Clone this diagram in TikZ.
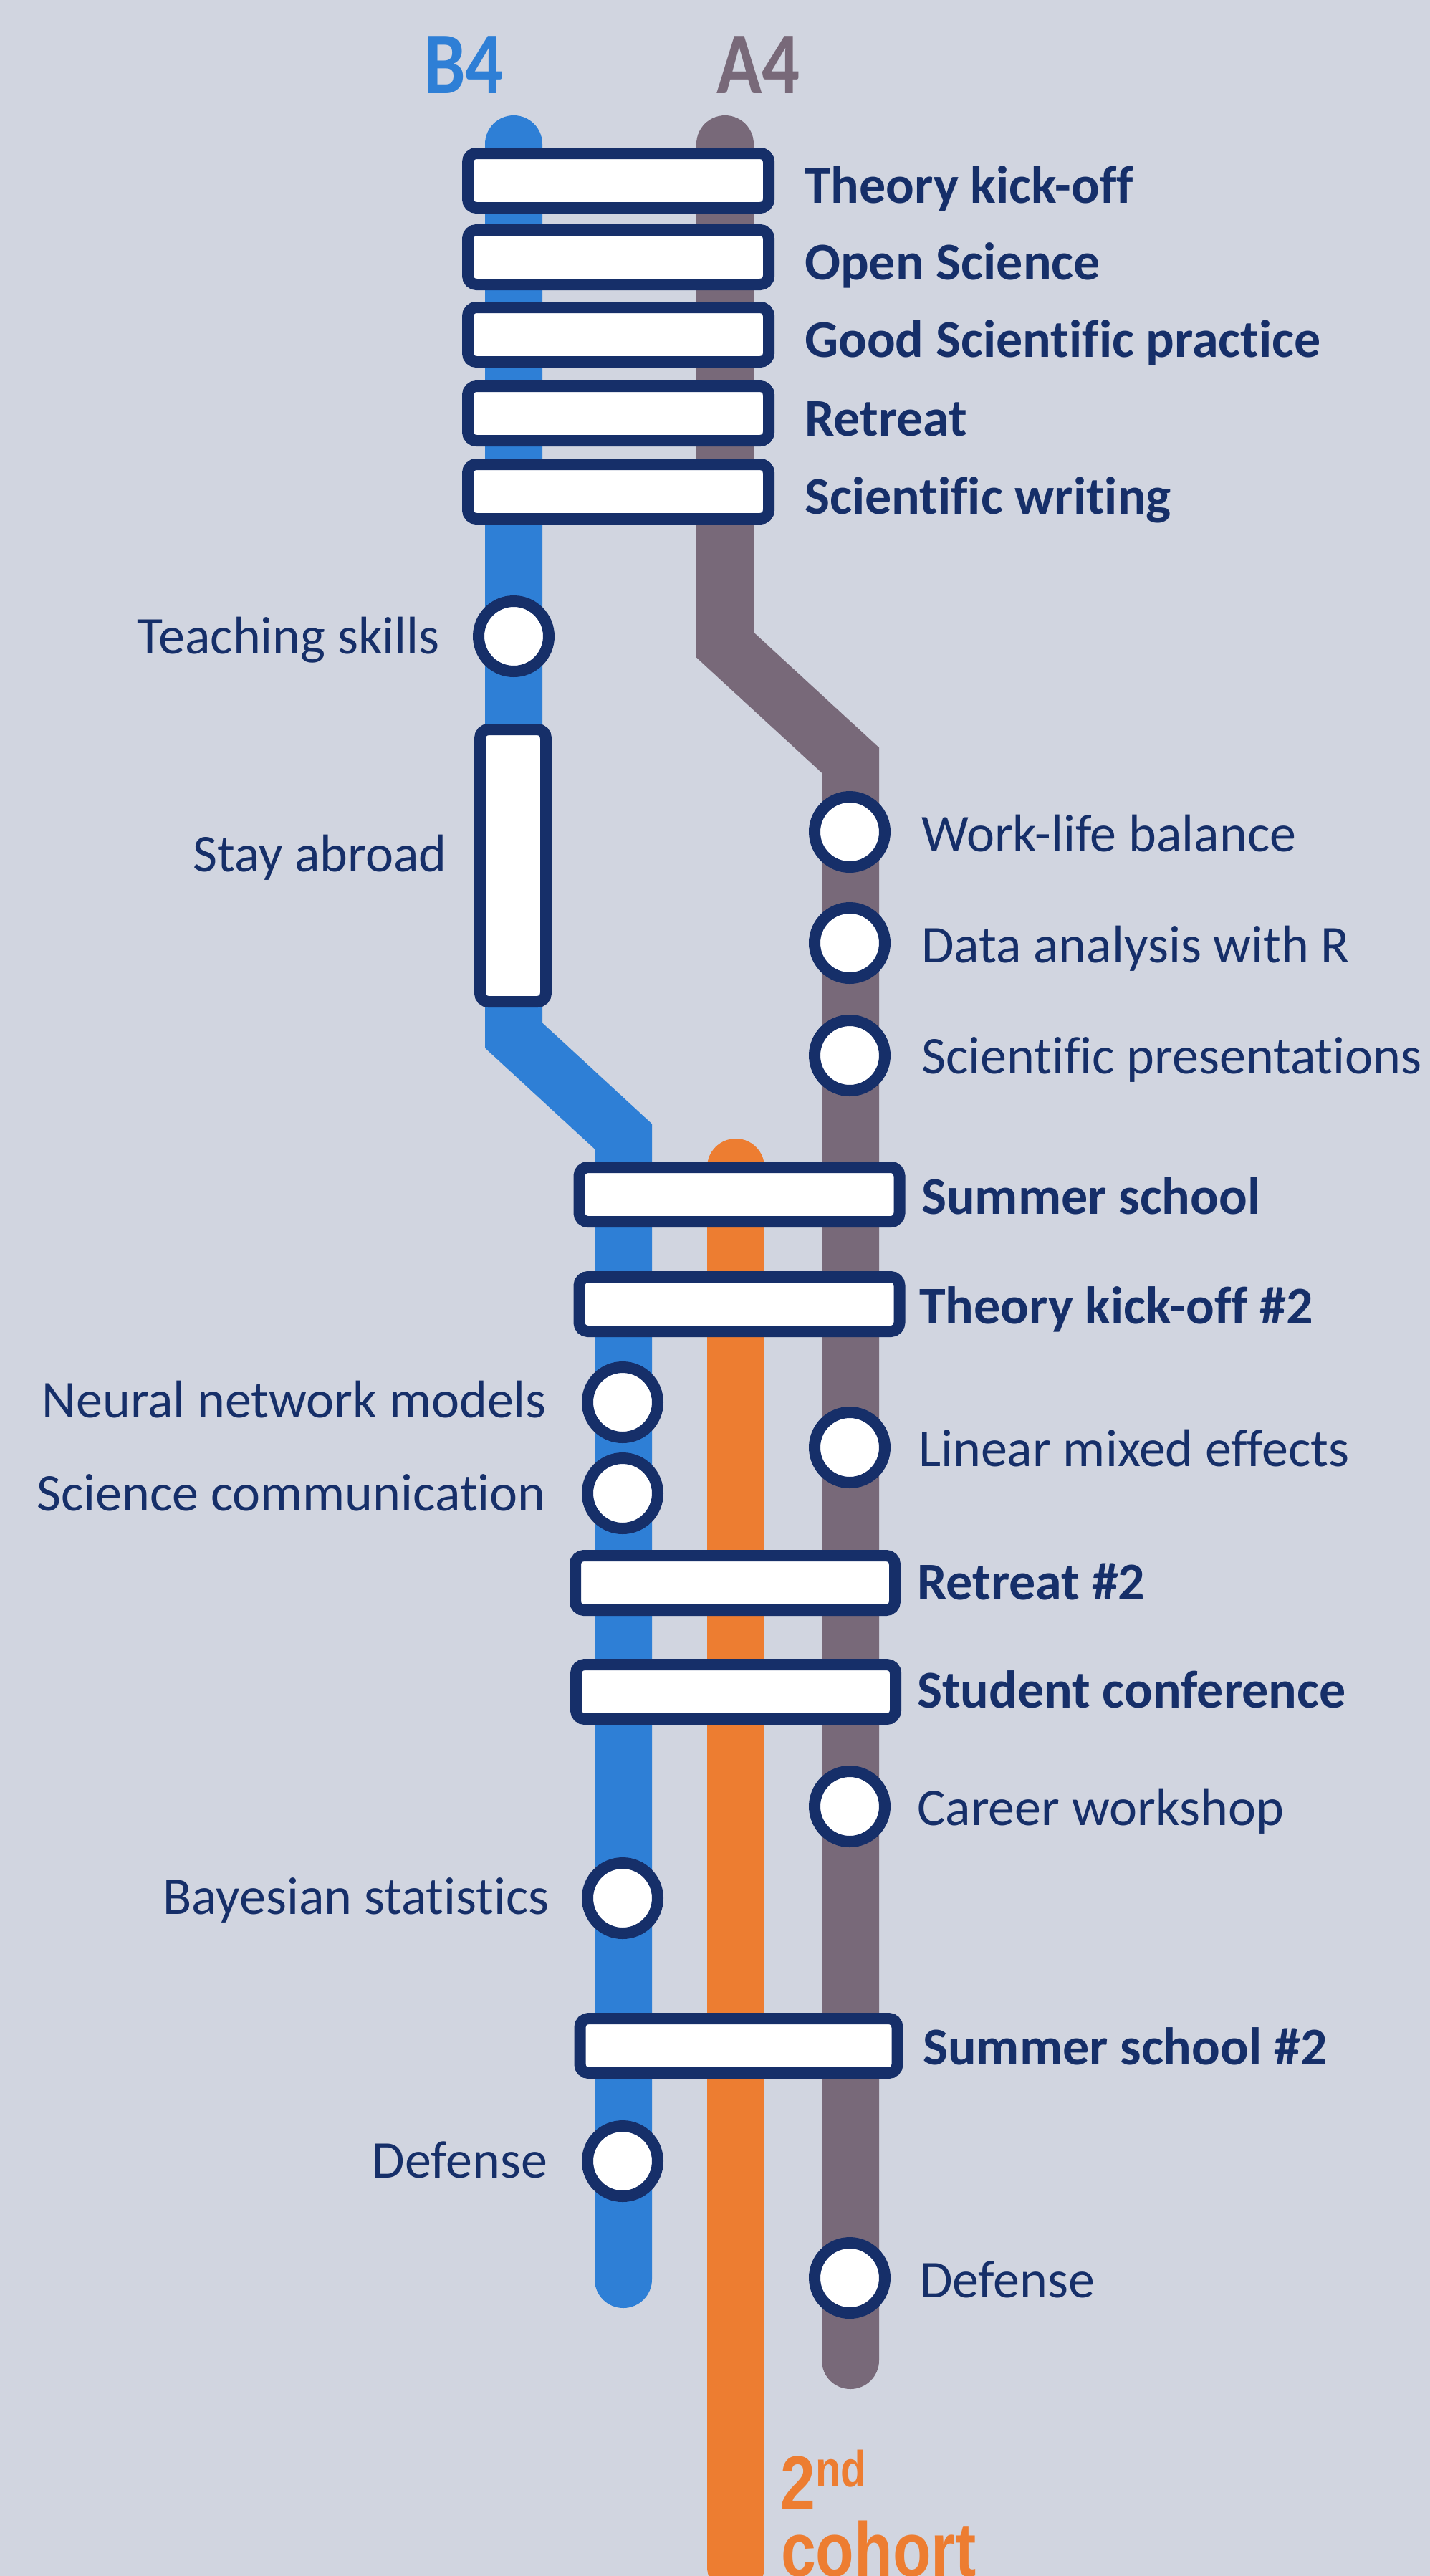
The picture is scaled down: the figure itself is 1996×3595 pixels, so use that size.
\documentclass[tikz,border=0pt]{standalone}
\usepackage{fontspec}
\usepackage{graphicx}
\setmainfont{Carlito}[Ligatures=NoCommon]
\newfontfamily\cohortfont{Liberation Sans}

\definecolor{bgcol}{HTML}{D1D5E0}
\definecolor{lineB}{HTML}{2E7FD6}
\definecolor{lineA}{HTML}{786979}
\definecolor{lineC}{HTML}{ED7D31}
\definecolor{navy}{HTML}{162F69}

\begin{document}
\begin{tikzpicture}[x=1pt,y=-1pt,
  track/.style={line width=80pt, line cap=round, line join=miter},
  station/.style={circle, draw=navy, fill=white, line width=16pt,
                  minimum size=98pt, inner sep=0pt},
  event/.style={rectangle, rounded corners=12pt, draw=navy, fill=white,
                line width=16pt, inner sep=0pt, minimum height=76pt},
  topevent/.style={event, minimum width=420pt},
  midevent/.style={event, minimum width=446pt},
  lbl/.style={text=navy, inner sep=0pt, font=\fontsize{74}{80}\selectfont},
  lblR/.style={lbl, anchor=base west},
  lblL/.style={lbl, anchor=base east},
  evlbl/.style={lblR, font=\fontsize{74}{80}\selectfont\bfseries},
  title/.style={anchor=base west, inner sep=0pt,
                font=\fontsize{123}{123}\selectfont\bfseries},
  cohortlbl/.style={anchor=base west, inner sep=0pt, text=lineC,
                font=\cohortfont\bfseries\fontsize{107}{107}\selectfont},
]

% canvas
\fill[bgcol] (0,0) rectangle (1996,3595);
\useasboundingbox (0,0) rectangle (1996,3595);

% ---------- track geometry ----------
\coordinate (b0) at (717,201);
\coordinate (b1) at (717,1445);
\coordinate (b2) at (870,1586);
\coordinate (b3) at (870,3181);

\coordinate (a0) at (1012,201);
\coordinate (a1) at (1012,900);
\coordinate (a2) at (1187,1061);
\coordinate (a3) at (1187,3294);

\coordinate (c0) at (1027,1629);
\coordinate (c1) at (1027,3582);

\draw[track, lineB] (b0) -- (b1) -- (b2) -- (b3);
\draw[track, lineA] (a0) -- (a1) -- (a2) -- (a3);
\draw[track, lineC] (c0) -- (c1);

% ---------- line names ----------
\node[title, text=lineB] (nameB) at (591,130) {\scalebox{0.85}[1]{B4}};
\node[title, text=lineA] (nameA) at (1000,130) {\scalebox{0.85}[1]{A4}};

% ---------- shared events (first cohort) ----------
\node[topevent] (kick)    at (863,252) {};
\node[topevent] (open)    at (863,359) {};
\node[topevent] (gsp)     at (863,467) {};
\node[topevent] (retreat) at (863,577) {};
\node[topevent] (writing) at (863,686) {};

\node[evlbl] at (1123,283) {Theory kick-off};
\node[evlbl] at (1123,390) {Open Science};
\node[evlbl] at (1123,498) {Good Scientific practice};
\node[evlbl] at (1123,608) {Retreat};
\node[evlbl] at (1123,717) {Scientific writing};

% ---------- B4 stations ----------
\node[station] (teach) at (717,888) {};
\node[lblL] at (614,912) {Teaching skills};

\node[event, minimum width=92pt, minimum height=380pt] (abroad) at (716,1208) {};
\node[lblL] at (624,1216) {Stay abroad};

\node[station] (neural)  at (869,1957) {};
\node[lblL] at (763,1978) {Neural network models};
\node[station] (scicom)  at (869,2084) {};
\node[lblL] at (762,2108) {Science communication};
\node[station] (bayes)   at (869,2649) {};
\node[lblL] at (767,2671) {Bayesian statistics};
\node[station] (defB)    at (869,3016) {};
\node[lblL] at (764,3039) {Defense};

% ---------- A4 stations ----------
\node[station] (wlb)    at (1186,1161) {};
\node[lblR] at (1286,1188) {Work-life balance};
\node[station] (rdata)  at (1186,1316) {};
\node[lblR] at (1286,1343) {Data analysis with R};
\node[station] (pres)   at (1186,1473) {};
\node[lblR] at (1286,1498) {Scientific presentations};
\node[station] (lme)    at (1186,2020) {};
\node[lblR] at (1282,2046) {Linear mixed effects};
\node[station] (career) at (1186,2521) {};
\node[lblR] at (1280,2547) {Career workshop};
\node[station] (defA)   at (1186,3179) {};
\node[lblR] at (1284,3206) {Defense};

% ---------- shared events (with second cohort) ----------
\node[midevent, minimum width=447pt] (summer)  at (1032,1667) {};
\node[evlbl] at (1286,1694) {Summer school};
\node[midevent, minimum width=447pt] (kick2)   at (1032,1820) {};
\node[evlbl] at (1283,1847) {Theory kick-off \#2};
\node[midevent] (retreat2) at (1026,2209) {};
\node[evlbl] at (1280,2232) {Retreat \#2};
\node[midevent] (conf)     at (1027,2361) {};
\node[evlbl] at (1280,2383) {Student conference};
\node[midevent, minimum width=443pt] (summer2) at (1031,2855) {};
\node[evlbl] at (1288,2881) {Summer school \#2};

% ---------- second cohort ----------
\node[cohortlbl] (cohortA) at (1089,3502)
  {\scalebox{0.82}[1]{2\raisebox{32pt}{\fontsize{71}{71}\selectfont nd}}};
\node[cohortlbl] (cohortB) at (1090,3595) {\scalebox{0.82}[1]{cohort}};

\end{tikzpicture}
\end{document}
